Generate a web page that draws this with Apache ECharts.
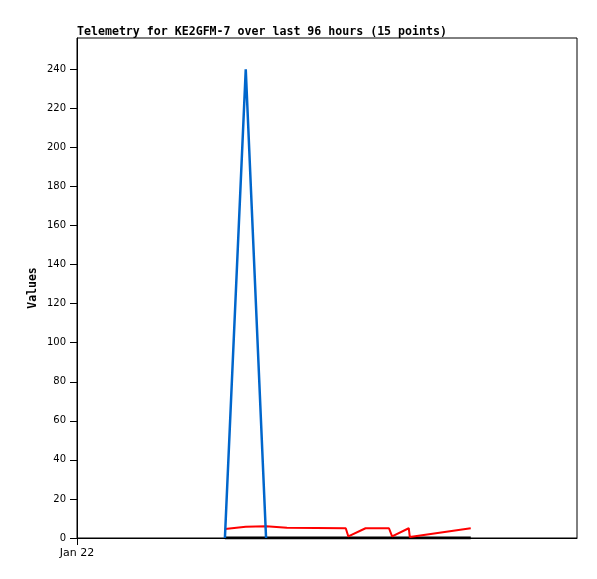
<!DOCTYPE html>
<html>
<head>
<meta charset="utf-8">
<script src="https://cdn.jsdelivr.net/npm/echarts@6/dist/echarts.min.js"></script>
<style>
  html, body { margin: 0; padding: 0; background: #fff; }
  #chart { width: 597px; height: 579px; }
</style>
</head>
<body>
<div id="chart"></div>
<script>
// hours since Jan 22 00:00
var blueHours = [28.4, 32.4, 36.3];
var blueValues = [0, 240, 0];

var redHours = [28.4, 32.4, 36.3, 40.3, 51.6, 52.1, 55.4, 59.9, 60.5, 63.7, 63.9, 75.6];
var redValues = [4.6, 5.8, 6, 5.2, 5, 0.8, 5, 5, 0.8, 5, 0.5, 5];

var blackHours = [28.4, 75.6];
var blackValues = [0, 0];

var yTicks = [0, 20, 40, 60, 80, 100, 120, 140, 160, 180, 200, 220, 240];
var xTicks = [0];
var xTickLabels = ["Jan 22"];

function pairs(xs, ys) {
  var out = [];
  for (var i = 0; i < xs.length; i++) out.push([xs[i], ys[i]]);
  return out;
}

var chart = echarts.init(document.getElementById("chart"));
var option = {
  animation: false,
  backgroundColor: "#fff",
  title: {
    text: "Telemetry for KE2GFM-7 over last 96 hours (15 points)",
    left: 77,
    top: 26,
    padding: 0,
    textStyle: {
      fontFamily: "DejaVu Sans Mono",
      fontWeight: "bold",
      fontSize: 11.6,
      color: "#000"
    }
  },
  grid: {
    left: 77,
    top: 38,
    width: 500,
    height: 500,
    show: true,
    borderColor: "#000",
    borderWidth: 1,
    backgroundColor: "transparent"
  },
  xAxis: {
    type: "value",
    min: 0,
    max: 96,
    splitLine: { show: false },
    axisLine: { lineStyle: { color: "#000", width: 1 } },
    axisTick: {
      customValues: xTicks,
      length: 7,
      lineStyle: { color: "#000" }
    },
    axisLabel: {
      customValues: xTicks,
      margin: 10,
      color: "#000",
      fontFamily: "DejaVu Sans",
      fontSize: 11,
      formatter: function (v) {
        var i = xTicks.indexOf(v);
        return i >= 0 ? xTickLabels[i] : "";
      }
    }
  },
  yAxis: {
    type: "value",
    min: 0,
    max: 256,
    name: "Values",
    nameLocation: "middle",
    nameGap: 38,
    nameMoveOverlap: false,
    nameTextStyle: {
      fontFamily: "DejaVu Sans Mono",
      fontWeight: "bold",
      fontSize: 11.5,
      color: "#000"
    },
    splitLine: { show: false },
    axisLine: { show: true, lineStyle: { color: "#000", width: 1 } },
    axisTick: {
      customValues: yTicks,
      length: 7,
      lineStyle: { color: "#000" }
    },
    axisLabel: {
      customValues: yTicks,
      margin: 11,
      color: "#000",
      fontFamily: "DejaVu Sans",
      fontSize: 10
    }
  },
  series: [
    {
      type: "line",
      data: pairs(blackHours, blackValues),
      symbol: "none",
      lineStyle: { color: "#000", width: 3 },
      z: 2
    },
    {
      type: "line",
      data: pairs(redHours, redValues),
      symbol: "none",
      lineStyle: { color: "#ff0000", width: 2 },
      z: 3
    },
    {
      type: "line",
      data: pairs(blueHours, blueValues),
      symbol: "none",
      lineStyle: { color: "#0066cc", width: 2.5 },
      z: 4
    }
  ]
};
chart.setOption(option);
</script>
</body>
</html>
